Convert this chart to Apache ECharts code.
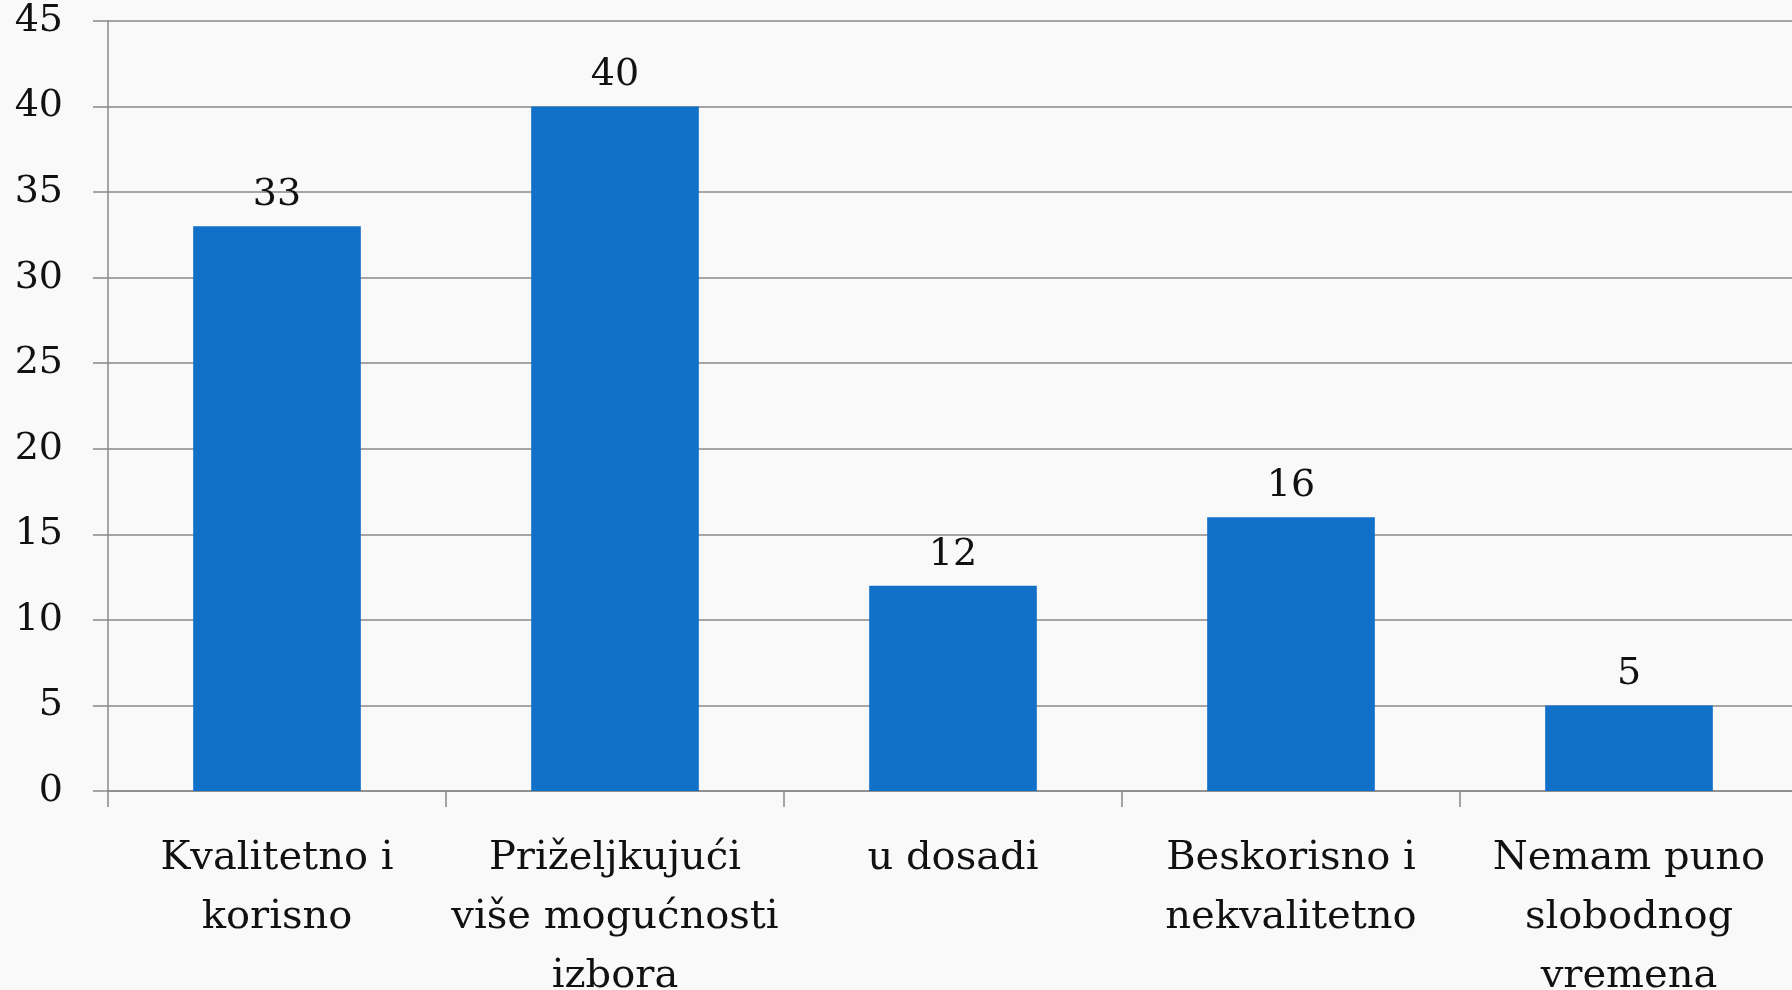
<!DOCTYPE html>
<html>
<head>
<meta charset="utf-8">
<script src="https://cdn.jsdelivr.net/npm/echarts@6/dist/echarts.min.js"></script>
<style>
  html, body { margin: 0; padding: 0; background: #f9f9f9; }
  #chart { width: 1792px; height: 990px; }
</style>
</head>
<body>
<div id="chart"></div>
<script>
  // podaci s grafa
  var categories = ['Kvalitetno i\nkorisno', 'Priželjkujući\nviše mogućnosti\nizbora', 'u dosadi', 'Beskorisno i\nnekvalitetno', 'Nemam puno\nslobodnog\nvremena'];
  var values = [33, 40, 12, 16, 5];
  var yMax = 45;
  var yStep = 5;

  var fontFam = '"DejaVu Serif", "Liberation Serif", serif';
  var chart = echarts.init(document.getElementById('chart'));
  chart.setOption({
    backgroundColor: '#f9f9f9',
    animation: false,
    grid: { left: 108, right: -6, top: 21, bottom: 199, containLabel: false, outerBoundsMode: 'none' },
    xAxis: {
      type: 'category',
      data: categories,
      boundaryGap: true,
      axisLine: { show: true, lineStyle: { color: '#888', width: 1.5 } },
      axisTick: { show: true, interval: 0, length: 16, lineStyle: { color: '#888', width: 1.5 } },
      axisLabel: {
        interval: 0,
        margin: 38,
        color: '#111',
        fontFamily: fontFam,
        fontSize: 40,
        lineHeight: 59
      }
    },
    yAxis: {
      type: 'value',
      min: 0,
      max: yMax,
      interval: yStep,
      axisLine: { show: true, lineStyle: { color: '#888', width: 1.5 } },
      axisTick: { show: true, length: 15, lineStyle: { color: '#888', width: 1.5 } },
      splitLine: { show: true, lineStyle: { color: '#888', width: 1.5 } },
      axisLabel: {
        margin: 45,
        color: '#111',
        fontFamily: fontFam,
        fontSize: 38
      }
    },
    series: [{
      type: 'bar',
      data: values,
      barWidth: '49.6%',
      itemStyle: { color: '#1170c8' },
      label: {
        show: true,
        position: 'top',
        distance: 12,
        color: '#111',
        fontFamily: fontFam,
        fontSize: 38
      }
    }]
  });
</script>
</body>
</html>
